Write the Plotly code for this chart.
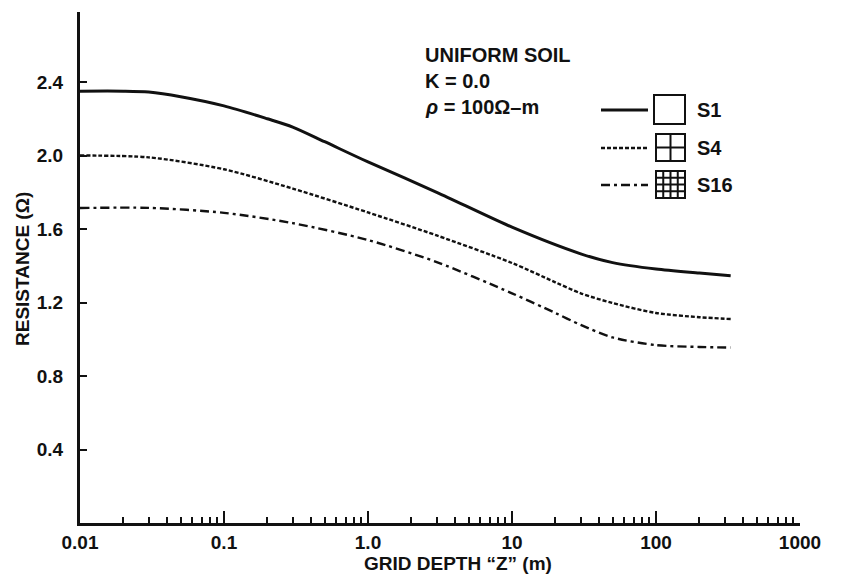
import plotly.graph_objects as go

# ---- data ----
depth_s1 = [0.01, 0.02, 0.03, 0.05, 0.1, 0.2, 0.3, 0.5, 1, 3, 10, 30, 50, 100, 200, 330]
res_s1 = [2.35, 2.35, 2.345, 2.32, 2.27, 2.2, 2.155, 2.075, 1.965, 1.80, 1.61, 1.465, 1.417, 1.382, 1.36, 1.345]

depth_s4 = [0.01, 0.03, 0.1, 0.3, 1, 3, 10, 20, 30, 50, 100, 200, 330]
res_s4 = [2.0, 1.99, 1.925, 1.82, 1.69, 1.565, 1.415, 1.31, 1.25, 1.197, 1.143, 1.12, 1.11]

depth_s16 = [0.01, 0.03, 0.1, 0.3, 1, 3, 10, 20, 30, 50, 100, 200, 330]
res_s16 = [1.714, 1.715, 1.688, 1.632, 1.54, 1.42, 1.25, 1.143, 1.078, 1.01, 0.968, 0.958, 0.955]

x_tickvals = [0.01, 0.1, 1, 10, 100, 1000]
x_ticktext = ["0.01", "0.1", "1.0", "10", "100", "1000"]
x_minor = [k * 10.0 ** e for e in range(-2, 3) for k in range(2, 10)]
y_tickvals = [0.4, 0.8, 1.2, 1.6, 2.0, 2.4]
y_ticktext = ["0.4", "0.8", "1.2", "1.6", "2.0", "2.4"]

series_names = ["S1", "S4", "S16"]
note_lines = ["UNIFORM SOIL", "K = 0.0", "<i>ρ</i> = 100Ω–m"]

# ---- layout helpers (reference pixel -> paper) ----
PAGE_OFF = 8  # default page body margin
W, H = 843 - PAGE_OFF, 575 - PAGE_OFF
L, R, T, B = 80, 800, 12, 523
def px(x):
    return (x - L) / (R - L)
def py(y):
    return (B - y) / (B - T)

FONT = "Liberation Sans, Arial, sans-serif"
INK = "#111111"
dashes = ["solid", "4px,2px", "9px,4px,3px,4px"]
widths = [3, 2.4, 2.4]

fig = go.Figure()
for d, r, name, dash, w in zip([depth_s1, depth_s4, depth_s16], [res_s1, res_s4, res_s16],
                               series_names, dashes, widths):
    fig.add_trace(go.Scatter(x=d, y=r, mode="lines", name=name,
                             line=dict(color=INK, width=w, dash=dash, shape="spline", smoothing=0.8),
                             showlegend=False))

shapes = []
# custom legend
leg_y = [110, 148, 185]
boxes = [(654, 95, 685, 124), (656, 134, 685, 161), (656, 171, 685, 198)]
for i, (yy, dash, w) in enumerate(zip(leg_y, dashes, widths)):
    shapes.append(dict(type="line", xref="paper", yref="paper", x0=px(601), x1=px(648),
                       y0=py(yy), y1=py(yy), line=dict(color=INK, width=w, dash=dash)))
    x0, y0, x1, y1 = boxes[i]
    shapes.append(dict(type="rect", xref="paper", yref="paper", x0=px(x0), x1=px(x1),
                       y0=py(y1), y1=py(y0), line=dict(color=INK, width=2)))
    n = [1, 2, 4][i]
    for k in range(1, n):
        xx = x0 + (x1 - x0) * k / n
        yk = y0 + (y1 - y0) * k / n
        shapes.append(dict(type="line", xref="paper", yref="paper", x0=px(xx), x1=px(xx),
                           y0=py(y1), y1=py(y0), line=dict(color=INK, width=2)))
        shapes.append(dict(type="line", xref="paper", yref="paper", x0=px(x0), x1=px(x1),
                           y0=py(yk), y1=py(yk), line=dict(color=INK, width=2)))

annotations = []
for name, yy in zip(series_names, leg_y):
    annotations.append(dict(text="<b>%s</b>" % name, xref="paper", yref="paper", x=px(695), y=py(yy),
                            xanchor="left", yanchor="middle", showarrow=False,
                            font=dict(family=FONT, size=20, color=INK)))
for line, yy in zip(note_lines, [55, 81, 107]):
    annotations.append(dict(text="<b>%s</b>" % line, xref="paper", yref="paper", x=px(423), y=py(yy),
                            xanchor="left", yanchor="middle", showarrow=False,
                            font=dict(family=FONT, size=20, color=INK)))
annotations.append(dict(text="<b>GRID DEPTH “Z” (m)</b>", xref="paper", yref="paper", x=px(458), y=py(563),
                        xanchor="center", yanchor="middle", showarrow=False,
                        font=dict(family=FONT, size=19, color=INK)))
annotations.append(dict(text="<b>RESISTANCE (Ω)</b>", xref="paper", yref="paper", x=px(22), y=py(269),
                        xanchor="center", yanchor="middle", showarrow=False, textangle=-90,
                        font=dict(family=FONT, size=19, color=INK)))

fig.update_layout(
    width=W, height=H,
    margin=dict(l=L - PAGE_OFF, r=843 - R, t=T - PAGE_OFF, b=575 - B),
    paper_bgcolor="white", plot_bgcolor="white",
    font=dict(family=FONT, size=19, color=INK),
    shapes=shapes, annotations=annotations,
    xaxis=dict(type="log", range=[-2, 3], showgrid=False, zeroline=False,
               showline=True, linecolor=INK, linewidth=3,
               tickmode="array", tickvals=x_tickvals, ticktext=["<b>%s</b>" % t for t in x_ticktext],
               ticks="inside", ticklen=12, tickwidth=2, tickcolor=INK,
               minor=dict(tickmode="array", tickvals=x_minor, ticks="inside",
                          ticklen=6, tickwidth=2, tickcolor=INK, showgrid=False),
               tickfont=dict(family=FONT, size=19, color=INK)),
    yaxis=dict(range=[0, 2.781], showgrid=False, zeroline=False,
               showline=True, linecolor=INK, linewidth=3,
               tickmode="array", tickvals=y_tickvals, ticktext=["<b>%s</b>" % t for t in y_ticktext],
               ticks="inside", ticklen=7, tickwidth=2, tickcolor=INK,
               ticklabelstandoff=10,
               tickfont=dict(family=FONT, size=19, color=INK)),
)

fig.write_html("out.html")
